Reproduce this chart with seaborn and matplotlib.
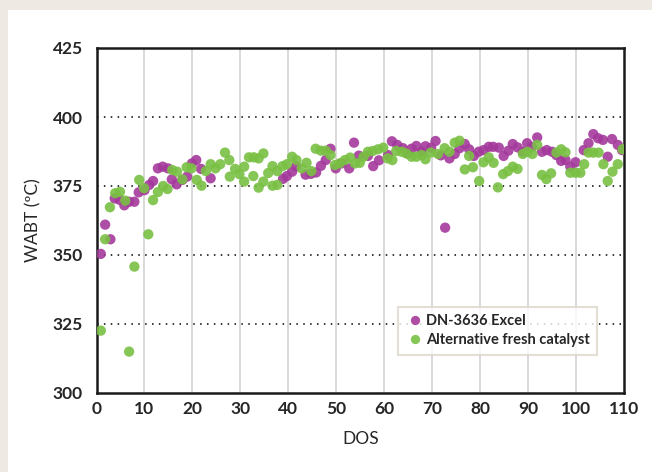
import pandas as pd
import matplotlib
matplotlib.use("Agg")
import matplotlib.pyplot as plt
from matplotlib.patches import Rectangle
import seaborn as sns

# ===============================
# DATA
# ===============================
excel_dos = [0.9, 1.8, 2.9, 3.8, 4.8, 5.8, 6.8, 7.9, 8.8, 10,
             11, 11.8, 12.8, 13.8, 14.9, 15.7, 16.7, 17.9, 18.9, 19.9,
             20.8, 21.8, 23.8, 38.9, 39.7, 40.8, 41.6, 43.6, 44.7, 45.8,
             46.8, 47.8, 48.8, 49.9, 51.1, 52.7, 53.7, 54.7, 56.6, 57.7,
             58.9, 60.8, 61.6, 62.7, 63.9, 64.9, 65.7, 66.7, 67.8, 68.6,
             69.8, 70.7, 71.8, 72.7, 73.6, 74.7, 75.7, 76.8, 77.7, 78.7,
             79.7, 80.7, 81.8, 82.7, 83.9, 84.9, 85.9, 86.8, 87.8, 88.9,
             89.8, 90.8, 91.9, 92.9, 93.9, 95, 95.9, 96.9, 97.8, 98.8,
             99.9, 101.6, 102.6, 103.6, 104.6, 105.6, 106.6, 107.5, 108.7, 109.6]
excel_wabt = [350.4, 361, 355.7, 370.5, 370, 368, 369.3, 369.3, 372.7, 373.5,
              375.4, 376.8, 381.4, 382, 381.4, 377.4, 375.6, 377.2, 378.4, 383.2,
              384.4, 381.2, 377.8, 377.6, 378.6, 380.2, 382.1, 379.1, 379.4, 379.9,
              382.3, 384.4, 388.5, 381.4, 383.2, 381.4, 390.7, 386, 385.9, 382.2,
              384.3, 386.2, 391.2, 389.9, 388.7, 386.8, 388.5, 389.5, 387.4, 389.4,
              388.9, 391.3, 386.1, 359.9, 385, 386.6, 388.7, 390.2, 388.3, 385.9,
              387.4, 388, 389.2, 389.2, 388.9, 385.9, 387.8, 390.2, 389, 387.4,
              390.5, 389.2, 392.6, 387.4, 388, 387.4, 386.2, 384.1, 384.4, 382,
              383.6, 388, 390.5, 393.8, 392.3, 391.7, 385.6, 392, 389.9, 388]

alt_dos = [0.9, 1.8, 2.8, 3.9, 4.9, 6, 6.8, 7.9, 8.9, 9.9,
           10.8, 11.8, 12.8, 13.9, 14.8, 15.8, 16.8, 17.9, 18.8, 19.8,
           20.9, 21.9, 22.8, 23.8, 24.8, 25.8, 26.8, 27.7, 27.8, 28.9,
           29.8, 30.8, 30.8, 31.8, 32.7, 32.8, 33.8, 33.8, 34.8, 34.8,
           35.8, 36.7, 36.7, 37.7, 37.7, 38.8, 39.7, 40.8, 41.7, 42.8,
           43.8, 44.8, 45.7, 46.8, 47.8, 48.8, 49.7, 50.7, 51.8, 52.9,
           53.9, 54.9, 55.7, 56.6, 57.6, 58.7, 59.8, 60.7, 61.7, 62.5,
           63.6, 64.6, 65.7, 66.7, 67.8, 68.6, 69.7, 71.2, 72.6, 73.6,
           74.7, 75.7, 76.8, 77.7, 78.5, 79.8, 80.7, 81.8, 82.8, 83.7,
           84.8, 85.8, 86.8, 87.8, 88.9, 89.9, 90.9, 91.9, 92.9, 93.8,
           94.8, 95.9, 96.9, 97.8, 98.8, 99.9, 100.9, 101.7, 102.6, 103.6,
           104.7, 105.7, 106.6, 107.6, 108.7, 109.7]
alt_wabt = [322.6, 355.7, 367.3, 372.4, 372.9, 369.7, 315, 345.8, 377.2, 374.2,
            357.5, 369.9, 372.8, 375, 373.9, 380.8, 380.2, 377.4, 381.8, 381.4,
            377.2, 375.1, 380.4, 382.9, 381.4, 382.9, 387.1, 384.4, 378.4, 381.2,
            379.3, 376.6, 382, 385.4, 378.6, 385.4, 374.4, 385, 386.8, 376.6,
            379.7, 382.2, 375.1, 380.4, 375.4, 382.2, 382.9, 385.6, 384.4, 381.4,
            383.4, 380.4, 388.5, 387.8, 387.8, 386.2, 382.6, 383.2, 384.4, 385.3,
            383.2, 383.4, 385.6, 387.4, 387.7, 388.3, 388.9, 385, 384.4, 387.7,
            387.4, 386.8, 385.6, 385.6, 386.2, 384.7, 387.1, 386.6, 388.7, 387.4,
            390.7, 391.4, 381, 385.9, 381.8, 376.8, 383.6, 385.4, 383.4, 374.5,
            379.3, 380.4, 382, 381.2, 386.6, 387.4, 386.6, 389.9, 379, 377.5,
            379.6, 387.1, 388.3, 387.2, 379.8, 379.8, 379.8, 382.9, 387.1, 387.1,
            387.1, 382.9, 376.8, 380.2, 382.9, 388.3]

series_names = ["DN-3636 Excel", "Alternative fresh catalyst"]
series_colors = ["#A43A9B", "#79C043"]
x_ticks = list(range(0, 111, 10))
y_ticks = [300, 325, 350, 375, 400, 425]

df = pd.concat([
    pd.DataFrame({"DOS": excel_dos, "WABT": excel_wabt, "series": series_names[0]}),
    pd.DataFrame({"DOS": alt_dos, "WABT": alt_wabt, "series": series_names[1]}),
], ignore_index=True)

# ===============================
# STYLE
# ===============================
sns.set_style("white")
plt.rcParams["font.family"] = ["Lato", "DejaVu Sans"]

fig = plt.figure(figsize=(6.52, 4.72), dpi=100)
fig.patch.set_facecolor("#EEEAE3")
fig.add_artist(Rectangle((8 / 652, 0), 1, (472 - 10) / 472,
                         transform=fig.transFigure, facecolor="white",
                         edgecolor="none", zorder=0))

ax = fig.add_axes([96.5 / 652, 1 - 393 / 472, (624 - 96.5) / 652, (393 - 48) / 472])

# ===============================
# PLOT
# ===============================
sns.scatterplot(
    data=df, x="DOS", y="WABT", hue="series",
    hue_order=series_names, palette=series_colors,
    s=55, alpha=0.9, edgecolor="none", ax=ax, zorder=3
)

ax.set_xlim(0, 110)
ax.set_ylim(300, 425)
ax.set_xticks(x_ticks)
ax.set_yticks(y_ticks)
ax.tick_params(axis="x", length=0, labelsize=12.5, pad=6)
ax.tick_params(axis="y", length=0, labelsize=12.5, pad=10)
for lbl in ax.get_xticklabels() + ax.get_yticklabels():
    lbl.set_fontweight("bold")

for xv in x_ticks[1:-1]:
    ax.axvline(xv, color="#D9D9D9", lw=1.4, zorder=1)
for yv in y_ticks[1:-1]:
    ax.axhline(yv, color="black", lw=1.1, ls=(0, (1, 3.5)), zorder=1)

for sp in ax.spines.values():
    sp.set_color("#1A1A1A")
    sp.set_linewidth(1.8)

ax.set_xlabel("DOS", fontsize=12.5, labelpad=10)
ax.set_ylabel("WABT (ºC)", fontsize=12.5, labelpad=8)

leg = ax.legend(loc="lower right", bbox_to_anchor=(0.962, 0.09),
                frameon=True, fancybox=False, fontsize=10.5,
                handletextpad=0.1, borderpad=0.5, labelspacing=0.35,
                handlelength=1.3, markerscale=0.9)
leg.get_frame().set_edgecolor("#DDD7CB")
leg.get_frame().set_linewidth(1.5)
for t in leg.get_texts():
    t.set_fontweight("bold")

fig.savefig("out.png", dpi=100, facecolor=fig.get_facecolor())
